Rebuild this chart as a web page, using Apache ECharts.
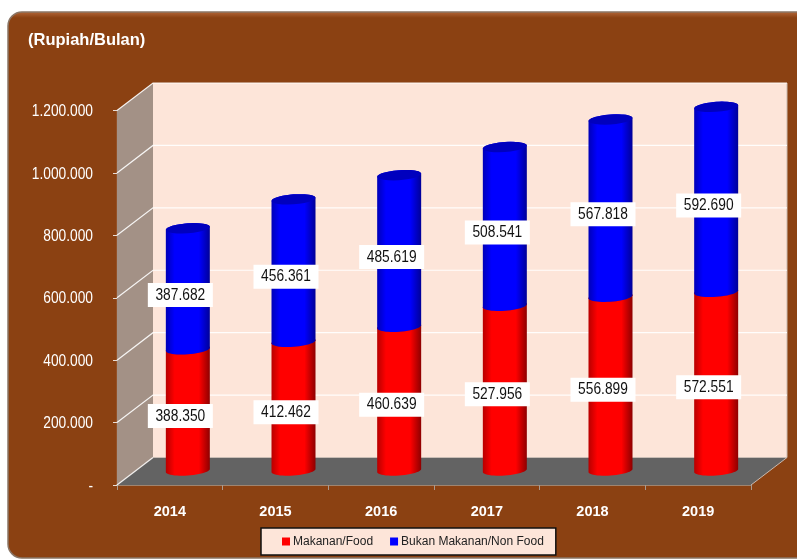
<!DOCTYPE html>
<html><head><meta charset="utf-8">
<style>html,body{margin:0;padding:0;background:#fff}#c{width:797px;height:559px}</style>
<script src="https://cdn.jsdelivr.net/npm/echarts@6/dist/echarts.min.js"></script>
</head><body><div id="c"></div>
<script>
const categories = ['2014','2015','2016','2017','2018','2019'];
const food = [388350,412462,460639,527956,556899,572551];
const nonFood = [387682,456361,485619,508541,567818,592690];
const yTicks = [0,200000,400000,600000,800000,1000000,1200000];
const foodName = 'Makanan/Food', nonFoodName = 'Bukan Makanan/Non Food';
const SANS = '"Liberation Sans",Arial,sans-serif';
const DX = 36, DY = 27.5, RX = 22, RY = 5, TILT = 0.07, SQUEEZE = 0.81;
const fmt = v => v === 0 ? '-' : String(v).replace(/\B(?=(\d{3})+$)/g, '.');
const chart = echarts.init(document.getElementById('c'), null, {renderer:'canvas'});

function ell(cx, cy, t){
  const ex = RX*Math.cos(t);
  return [cx+ex, cy+RY*Math.sin(t)-TILT*ex];
}
function arc(cx, cy, a, b){
  const out=[]; for(let i=0;i<=24;i++){ out.push(ell(cx,cy,a+(b-a)*i/24)); } return out;
}
const grad = (edgeL, mid, edgeR) => new echarts.graphic.LinearGradient(0,0,1,0,[
  {offset:0,color:edgeL},{offset:0.2,color:mid},{offset:0.75,color:mid},{offset:1,color:edgeR}]);

function backdrop(params, api){
  const cs = params.coordSys;
  const x0 = cs.x, x1 = cs.x+cs.width, yB = api.coord([0,0])[1], yT = api.coord([0,1200000])[1];
  const kids = [
    {type:'polygon',shape:{points:[[x0+DX,yT-DY],[x1+DX,yT-DY],[x1+DX,yB-DY],[x0+DX,yB-DY]]},style:{fill:'#FDE5D9'}},
    {type:'polygon',shape:{points:[[x0,yB],[x0,yT],[x0+DX,yT-DY],[x0+DX,yB-DY]]},style:{fill:'#A39186'}},
    {type:'polygon',shape:{points:[[x0,yB],[x1,yB],[x1+DX,yB-DY],[x0+DX,yB-DY]]},style:{fill:'#636363'}},
    {type:'polyline',shape:{points:[[x1+DX,yT-DY],[x1+DX,yB-DY],[x1,yB]]},style:{fill:null,stroke:'#C9B9AE',lineWidth:1}},
    {type:'line',shape:{x1:x0+DX,y1:yB-DY,x2:x1+DX,y2:yB-DY},style:{stroke:'#C9BDB5',lineWidth:1}}
  ];
  yTicks.forEach(v=>{
    const y = api.coord([0,v])[1];
    kids.push({type:'polyline',shape:{points: v===0 ? [[x0,y],[x0+DX,y-DY]] : [[x0,y],[x0+DX,y-DY],[x1+DX,y-DY]]},
      style:{fill:null,stroke:'#FFFFFF',lineWidth:1.2,opacity:0.9}});
    kids.push({type:'text',x:x0-24,y:y+1,scaleX:SQUEEZE,style:{x:0,y:0,text:fmt(v),align:'right',verticalAlign:'middle',
      fill:'#FFFFFF',font:'17px '+SANS}});
  });
  return {type:'group',children:kids};
}
function cylinder(edgeL, mid, edgeR, cap){
  return function(params, api){
    const c0 = api.coord([api.value(0),api.value(1)]);
    const c1 = api.coord([api.value(0),api.value(2)]);
    const cx = c0[0]+DX/2, yb = c0[1]-14.5, yt = c1[1]-14.5;
    const body = arc(cx,yb,0,Math.PI).concat(arc(cx,yt,Math.PI,2*Math.PI));
    return {type:'group',children:[
      {type:'polygon',shape:{points:body},style:{fill:grad(edgeL,mid,edgeR)}},
      {type:'polygon',shape:{points:arc(cx,yt,0,2*Math.PI)},style:{fill:cap}}
    ]};
  };
}
function valueLabel(params, api){
  const c = api.coord([api.value(0),api.value(1)]);
  const cx = c[0]+10.5, cy = c[1]-8.4;
  return {type:'group',children:[
    {type:'rect',shape:{x:cx-32.5,y:cy-12,width:65,height:24},style:{fill:'#FFFFFF'}},
    {type:'text',x:cx,y:cy,scaleX:SQUEEZE,style:{x:0,y:0,text:fmt(api.value(2)),align:'center',verticalAlign:'middle',
      fill:'#111',font:'17px '+SANS}}
  ]};
}
const foodData = categories.map((c,i)=>[i,0,food[i]]);
const nonFoodData = categories.map((c,i)=>[i,food[i],food[i]+nonFood[i]]);
const labelData = categories.flatMap((c,i)=>[[i,food[i]/2,food[i]],[i,food[i]+nonFood[i]/2,nonFood[i]]]);

chart.setOption({
  animation:false,
  backgroundColor:'#FFFFFF',
  title:{text:'(Rupiah/Bulan)',left:28,top:32,padding:0,textStyle:{color:'#FFFFFF',fontFamily:SANS,fontWeight:'bold',fontSize:16.5}},
  graphic:[{type:'rect',z:-10,shape:{x:8,y:12,width:810,height:546,r:14},
    style:{fill:new echarts.graphic.LinearGradient(0,0,0,1,[
      {offset:0,color:'#B5683A'},{offset:0.012,color:'#8B4112'},{offset:1,color:'#8B4112'}]),stroke:'#8A7565',lineWidth:1.5}}],
  legend:{left:261,top:528,padding:[7.5,12,7.5,21],itemWidth:8,itemHeight:8,itemGap:17,
    backgroundColor:'#FDE5D9',borderColor:'#111',borderWidth:1.5,borderRadius:0,
    icon:'rect',data:[foodName,nonFoodName],
    textStyle:{color:'#222',fontFamily:SANS,fontSize:12,padding:[0,0,0,-2]}},
  grid:{left:117,top:110.5,width:634,height:374.5},
  xAxis:{type:'category',data:categories,
    axisLine:{lineStyle:{color:'#A89A8E',width:1.5}},
    axisTick:{show:true,length:5,lineStyle:{color:'#A89A8E'}},
    axisLabel:{color:'#FFFFFF',fontFamily:SANS,fontWeight:'bold',fontSize:14.5,margin:19}},
  yAxis:{type:'value',min:0,max:1200000,interval:200000,
    axisLine:{show:true,lineStyle:{color:'#E8DDD5',width:1.2}},
    axisTick:{show:true,length:4,lineStyle:{color:'#E8DDD5'}},
    splitLine:{show:false},
    axisLabel:{show:false}},
  series:[
    {type:'custom',name:'wall',silent:true,z:1,renderItem:backdrop,data:[[0,0]],encode:{x:0,y:1},clip:false},
    {type:'custom',name:foodName,z:2,itemStyle:{color:'#FF0000'},renderItem:cylinder('#B80000','#FF0000','#8E0000','#D00000'),data:foodData,encode:{x:0,y:[1,2]},clip:false},
    {type:'custom',name:nonFoodName,z:3,itemStyle:{color:'#0000FF'},renderItem:cylinder('#0000B8','#0000FF','#000098','#0000BE'),data:nonFoodData,encode:{x:0,y:[1,2]},clip:false},
    {type:'custom',name:'labels',silent:true,z:4,renderItem:valueLabel,data:labelData,encode:{x:0,y:1},clip:false}
  ]
});
</script></body></html>
